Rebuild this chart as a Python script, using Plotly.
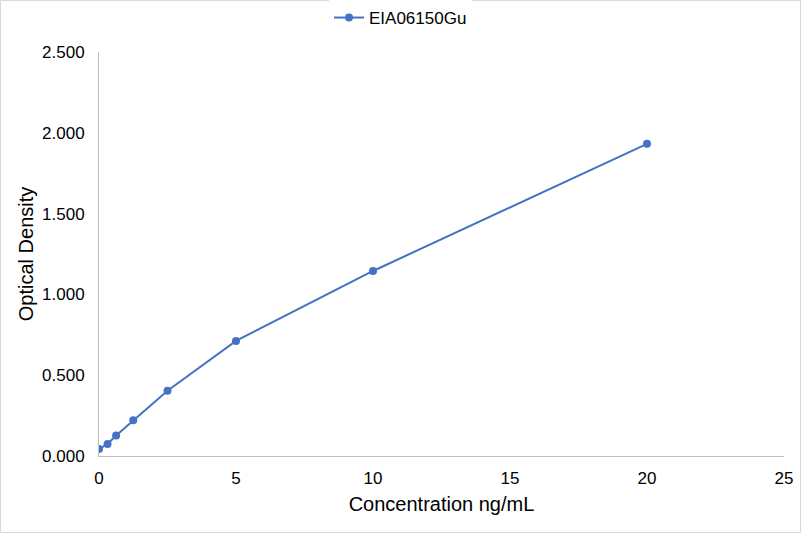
import plotly.graph_objects as go

concentration = [0, 0.312, 0.625, 1.25, 2.5, 5, 10, 20]
optical_density = [0.043, 0.075, 0.127, 0.221, 0.404, 0.712, 1.145, 1.932]
series_name = 'EIA06150Gu'

W, H = 801, 533
ml, mr, mt, mb = 99, 17, 52, 77
pw, ph = W - ml - mr, H - mt - mb

fig = go.Figure([
    go.Scatter(x=concentration, y=optical_density, name=series_name,
               mode='lines+markers',
               line=dict(color='#4472C4', width=2),
               marker=dict(color='#4472C4', size=8))
])

fig.update_layout(
    width=W, height=H,
    margin=dict(l=ml, r=mr, t=mt, b=mb, autoexpand=False),
    paper_bgcolor='white', plot_bgcolor='white',
    font=dict(family='Liberation Sans, Arial', size=17, color='black'),
    showlegend=True,
    legend=dict(orientation='h', xref='container', x=0.5, xanchor='center',
                yref='container', y=1 - 18 / H, yanchor='middle',
                itemwidth=30, font=dict(size=17)),
    shapes=[dict(type='rect', xref='paper', yref='paper',
                 x0=(0.5 - ml) / pw, x1=(W - 0.5 - ml) / pw,
                 y0=-(H - 0.5 - mt - ph) / ph, y1=(mt - 0.5) / ph + 1,
                 line=dict(color='#D9D9D9', width=1))],
)
fig.update_xaxes(range=[0, 25], dtick=5, showgrid=False, zeroline=False,
                 showline=True, linecolor='#BFBFBF', linewidth=1,
                 ticks='', ticklabelstandoff=7, automargin=False,
                 title=dict(text='Concentration ng/mL', standoff=9))
fig.update_yaxes(range=[0, 2.5], dtick=0.5, tickformat='.3f', showgrid=False,
                 zeroline=False, showline=True, linecolor='#BFBFBF', linewidth=1,
                 ticks='', ticklabelstandoff=10, automargin=False,
                 title=dict(text='Optical Density', standoff=3))

fig.write_html('out.html', config={'displayModeBar': False},
               post_script="document.body.style.margin='0';"
                           "document.body.style.overflow='hidden';")
